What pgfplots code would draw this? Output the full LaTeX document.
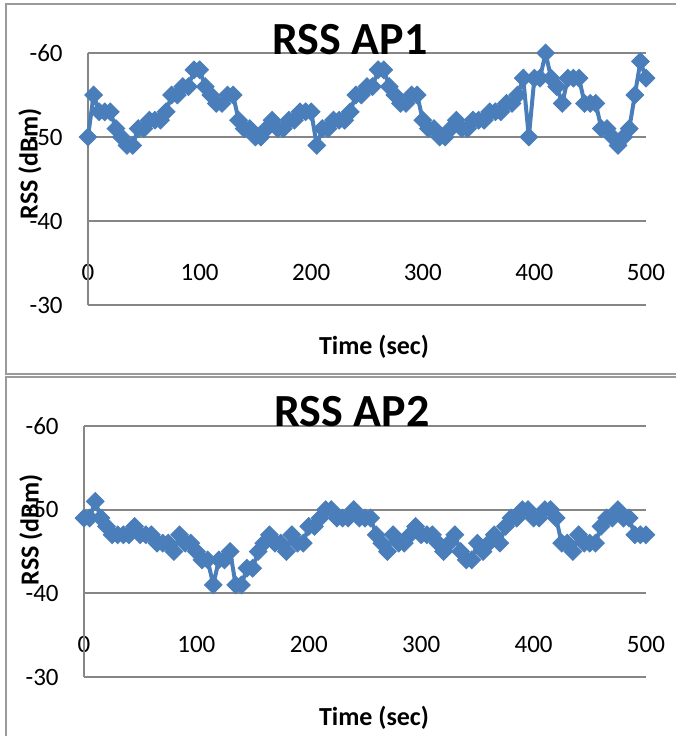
\documentclass[border=0pt]{standalone}
\usepackage{fontspec}
\setmainfont{Carlito}
\usepackage{pgfplots}
\usepackage{pgfplotstable}
\pgfplotsset{compat=1.18}
\definecolor{serblue}{HTML}{4A7EBB}
\definecolor{gridgray}{HTML}{868686}
\definecolor{framegray}{HTML}{9A9A9A}

\pgfplotstableread{
t v
0 -50
5 -55
10 -53
15 -53
20 -53
25 -51
30 -50
35 -49
40 -49
45 -51
50 -51
55 -52
60 -52
65 -52
70 -53
75 -55
80 -55
85 -56
90 -56
95 -58
100 -58
105 -56
110 -55
115 -54
120 -54
125 -55
130 -55
135 -52
140 -51
145 -51
150 -50
155 -50
160 -51
165 -52
170 -51
175 -51
180 -52
185 -52
190 -53
195 -53
200 -53
205 -49
210 -51
215 -51
220 -52
225 -52
230 -52
235 -53
240 -55
245 -55
250 -56
255 -56
260 -58
265 -58
270 -56
275 -55
280 -54
285 -54
290 -55
295 -55
300 -52
305 -51
310 -51
315 -50
320 -50
325 -51
330 -52
335 -51
340 -51
345 -52
350 -52
355 -52
360 -53
365 -53
370 -53
375 -54
380 -54
385 -55
390 -57
395 -50
400 -57
405 -57
410 -60
415 -57
420 -56
425 -54
430 -57
435 -57
440 -57
445 -54
450 -54
455 -54
460 -51
465 -51
470 -50
475 -49
480 -50
485 -51
490 -55
495 -59
500 -57
}\apone

\pgfplotstableread{
t v
0 -49
5 -49
10 -51
15 -49
20 -48
25 -47
30 -47
35 -47
40 -47
45 -48
50 -47
55 -47
60 -47
65 -46
70 -46
75 -46
80 -45
85 -47
90 -46
95 -46
100 -45
105 -44
110 -44
115 -41
120 -44
125 -44
130 -45
135 -41
140 -41
145 -43
150 -43
155 -45
160 -46
165 -47
170 -46
175 -46
180 -45
185 -47
190 -46
195 -46
200 -48
205 -48
210 -49
215 -50
220 -50
225 -49
230 -49
235 -49
240 -50
245 -49
250 -49
255 -49
260 -47
265 -46
270 -45
275 -47
280 -46
285 -46
290 -47
295 -48
300 -47
305 -47
310 -47
315 -46
320 -45
325 -46
330 -47
335 -45
340 -44
345 -44
350 -46
355 -45
360 -46
365 -47
370 -46
375 -48
380 -49
385 -49
390 -50
395 -50
400 -49
405 -49
410 -50
415 -50
420 -49
425 -46
430 -46
435 -45
440 -47
445 -46
450 -46
455 -46
460 -48
465 -49
470 -49
475 -50
480 -49
485 -49
490 -47
495 -47
500 -47
}\aptwo

\pgfplotsset{
  rssaxis/.style={
    scale only axis,
    xmin=0, xmax=500, ymin=-60, ymax=-30,
    y dir=reverse,
    clip=false,
    axis line style={draw=none},
    major tick length=0pt,
    xtick={0,100,200,300,400,500},
    xticklabels={0,100,200,300,400,500},
    ytick={-60,-50,-40,-30},
    yticklabels={-60,-50,-40,-30},
    ymajorgrids,
    grid style={gridgray, line width=0.9pt},
    ticklabel style={font=\fontsize{12.5}{12.5}\selectfont},
    xticklabel style={anchor=center, inner sep=0pt, yshift=16.5pt},
    yticklabel style={anchor=east, inner sep=0pt, xshift=-12.5pt},
  },
  rssplot/.style={
    serblue, line width=2pt,
    mark=square*, mark size=3.1pt,
    mark options={rotate=45, fill=serblue, draw=serblue, line width=0.5pt, solid},
  },
}

\begin{document}
\begin{tikzpicture}
\path[use as bounding box] (0,0) rectangle (338pt,368pt);
% frames
\draw[framegray, line width=1.2pt] (338pt,366pt) -- (3pt,366pt) -- (3pt,181pt) -- (338pt,181pt);
\draw[framegray, line width=1.2pt] (338pt,179.5pt) -- (3pt,179.5pt) -- (3pt,0pt);

\begin{axis}[rssaxis, at={(44pt,215.5pt)}, anchor=south west, width=279pt, height=126pt]
\draw[gridgray, line width=0.9pt] (axis cs:0,-60) -- (axis cs:0,-30);
\addplot[rssplot] table[x=t, y=v] {\apone};
\end{axis}

\begin{axis}[rssaxis, at={(42pt,29.5pt)}, anchor=south west, width=281pt, height=125.5pt]
\draw[gridgray, line width=0.9pt] (axis cs:0,-60) -- (axis cs:0,-30);
\addplot[rssplot] table[x=t, y=v] {\aptwo};
\end{axis}

% titles and labels
\node[font=\fontsize{23}{23}\selectfont\bfseries, inner sep=0pt] at (175pt,348pt) {RSS AP1};
\node[font=\fontsize{23}{23}\selectfont\bfseries, inner sep=0pt] at (176pt,162pt) {RSS AP2};
\node[font=\fontsize{13}{13}\selectfont\bfseries, rotate=90, inner sep=0pt] at (15pt,286pt) {RSS (dBm)};
\node[font=\fontsize{13}{13}\selectfont\bfseries, rotate=90, inner sep=0pt] at (15.5pt,103pt) {RSS (dBm)};
\node[font=\fontsize{13}{13}\selectfont\bfseries, inner sep=0pt] at (187pt,194.5pt) {Time (sec)};
\node[font=\fontsize{13}{13}\selectfont\bfseries, inner sep=0pt] at (187pt,9pt) {Time (sec)};
\end{tikzpicture}
\end{document}
